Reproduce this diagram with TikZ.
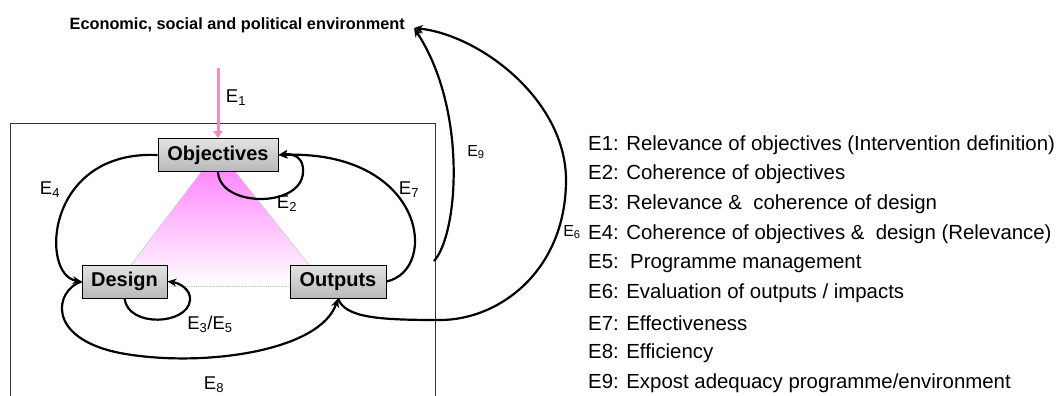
\documentclass[tikz,border=0pt]{standalone}
\usepackage{fontspec}
\setmainfont{Liberation Sans}
\usetikzlibrary{arrows.meta}
\definecolor{pinkarr}{RGB}{240,140,195}
\definecolor{magtop}{RGB}{255,115,255}
\begin{document}
\begin{tikzpicture}[x=1pt,y=-1pt,
  box/.style={draw=black, line width=0.9pt, top color=gray!22, middle color=gray!4, bottom color=gray!55, font=\fontsize{20}{21}\selectfont\bfseries, inner sep=0pt, minimum height=33pt},
  arr/.style={line width=2.2pt, -{Stealth[length=9pt,width=8pt]}},
  lab/.style={font=\fontsize{18.5}{19}\selectfont, inner sep=0pt},
  smalllab/.style={font=\fontsize{16}{17}\selectfont, inner sep=0pt},
  legend/.style={font=\fontsize{20.4}{21}\selectfont, anchor=west, inner sep=0pt}]
\useasboundingbox (0,0) rectangle (1063,396);
\fill[white] (0,0) rectangle (1063,396);
% triangle
\shade[top color=magtop, bottom color=white] (218,150) -- (115,286) -- (326,286) -- cycle;
\draw[gray!45, line width=0.5pt] (115,286) -- (218,150) -- (326,286);
\draw[gray!45, densely dotted, line width=0.8pt] (115,286) -- (326,286);
% frame
\draw[gray!40!black, line width=0.8pt] (10,410) -- (10,123) -- (435,123) -- (435,410);
% title
\node[anchor=east, font=\fontsize{16.3}{17}\selectfont\bfseries, inner sep=0pt] (env) at (405,25) {Economic, social and political environment};
\coordinate (envtip) at (414,28);
% boxes
\node[box, minimum width=120pt] (obj) at (218,155) {Objectives};
\node[box, minimum width=85pt] (des) at (124.5,281.5) {Design};
\node[box, minimum width=96pt] (out) at (338,281.5) {Outputs};
% E1
\coordinate (pinkstart) at (218,68);
\draw[pinkarr, line width=3pt, -{Triangle[length=7pt,width=9pt]}] (pinkstart) -- (obj.north);
\node[lab] (e1) at (236,98) {E\textsubscript{1}};
% E2 loop
\draw[arr] (obj.south) .. controls (220,208) and (302,208) .. (303,172) .. controls (304,158) and (294,153) .. (obj.east);
\node[lab] (e2) at (287,204) {E\textsubscript{2}};
% E4
\draw[arr] (obj.west) .. controls (45,150) and (40,275) .. (des.west);
\node[lab] (e4) at (50,190) {E\textsubscript{4}};
% E7
\draw[arr] (out.east) .. controls (440,270) and (425,150) .. (obj.east);
\node[lab] (e7) at (409,190) {E\textsubscript{7}};
% E3/E5 loop
\draw[arr] (des.south) .. controls (128,328) and (188,325) .. (190,300) .. controls (191,290) and (180,283) .. (des.east);
\node[lab] (e35) at (210,324) {E\textsubscript{3}/E\textsubscript{5}};
% E8
\draw[arr] (des.west) .. controls (55,290) and (45,338) .. (120,353) .. controls (200,368) and (320,352) .. (out.south);
\node[lab] (e8) at (214,385) {E\textsubscript{8}};
% E6
\draw[arr] (out.south) .. controls (345,318) and (380,320) .. (440,320) .. controls (500,320) and (566,270) .. (566,180) .. controls (566,100) and (480,35) .. (envtip);
\node[smalllab] (e6) at (572,232) {E\textsubscript{6}};
% E9
\coordinate (e9s) at (434,261);
\draw[arr] (e9s) .. controls (458,235) and (468,110) .. (envtip);
\node[smalllab] (e9) at (476,152) {E\textsubscript{9}};
% legend
\node[legend] (l1) at (588,145) {E1: Relevance of objectives (Intervention definition)};
\node[legend] (l2) at (588,174) {E2: Coherence of objectives};
\node[legend] (l3) at (588,204) {E3: Relevance \&\ \ coherence of design};
\node[legend] (l4) at (588,234) {E4: Coherence of objectives \&\ \ design (Relevance)};
\node[legend] (l5) at (588,264) {E5:\ \ Programme management};
\node[legend] (l6) at (588,293) {E6: Evaluation of outputs / impacts};
\node[legend] (l7) at (588,323) {E7: Effectiveness};
\node[legend] (l8) at (588,353) {E8: Efficiency};
\node[legend] (l9) at (588,383) {E9: Expost adequacy programme/environment};
\end{tikzpicture}
\end{document}
